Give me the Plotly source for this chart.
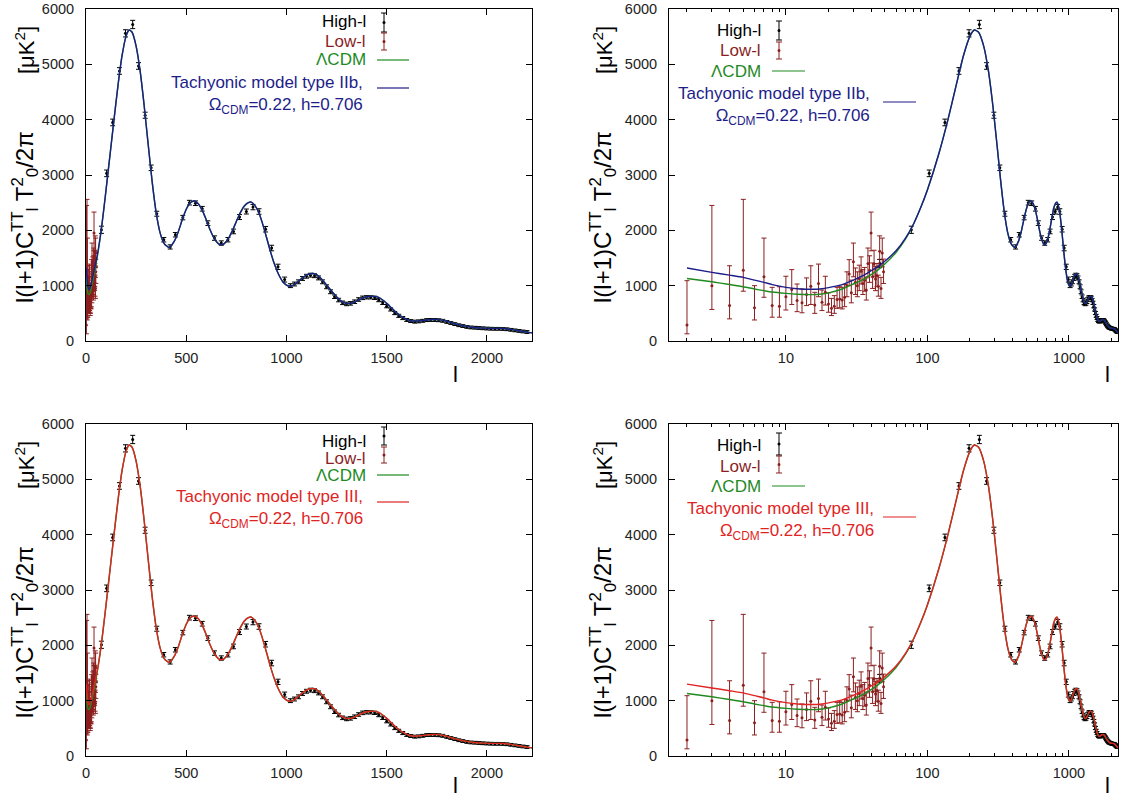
import plotly.graph_objects as go

W, H = 1123, 800
FONT = "Liberation Sans, Arial, Helvetica, sans-serif"

BLACK = "#000000"
BROWN = "#8b1f1f"
GREEN = "#1f8a1f"
NAVY = "#1d1d8a"
RED = "#e02424"

# ---------------- data ----------------
# Low-l TT band powers (l, value, upper error, lower error)
lowl_l = list(range(2, 50))
lowl_val = [290, 1000, 640, 1280, 600, 1160, 640, 630, 800, 930,
            730, 690, 840, 990, 650, 1040, 700, 880, 670, 590,
            630, 750, 760, 740, 790, 1000, 1210, 870, 1430, 1060,
            1000, 1130, 1260, 1040, 1100, 920, 1400, 1280, 1950, 1160,
            1390, 1120, 1180, 990, 1620, 950, 1590, 1250]
lowl_up = [800, 1450, 720, 1280, 400, 700, 330, 350, 370, 360,
           300, 250, 300, 370, 230, 350, 220, 290, 200, 180,
           190, 220, 230, 230, 230, 250, 260, 230, 340, 260,
           250, 240, 260, 250, 230, 220, 280, 260, 380, 250,
           250, 230, 220, 200, 280, 200, 270, 230]
lowl_dn = [160, 430, 240, 380, 220, 370, 210, 200, 240, 270,
           200, 180, 200, 330, 150, 240, 150, 230, 150, 130,
           130, 160, 160, 160, 170, 200, 210, 180, 270, 220,
           200, 220, 230, 200, 200, 180, 240, 220, 320, 210,
           230, 210, 200, 180, 260, 180, 250, 210]

# High-l binned TT power spectrum (l, value, symmetric error)
highl_l = [46, 77, 103, 133, 167, 197, 233, 262, 295, 325,
           353, 388, 420, 446, 483, 516, 546, 580, 608, 641,
           675, 708, 736, 766, 800, 833, 863, 896, 926, 958,
           991, 1020, 1040, 1060, 1080, 1100, 1120, 1140, 1160, 1180,
           1200, 1220, 1240, 1260, 1280, 1300, 1320, 1340, 1360, 1380,
           1400, 1420, 1440, 1460, 1480, 1500, 1520, 1540, 1560, 1580,
           1600, 1620, 1640, 1660, 1680, 1700, 1720, 1740, 1760, 1780,
           1800, 1820, 1840, 1860, 1880, 1900, 1920, 1940, 1960, 1980,
           2000, 2020, 2040, 2060, 2080, 2100, 2120, 2140, 2160, 2180, 2200]
highl_val = [1400, 2010, 3030, 3950, 4880, 5560, 5720, 4970, 4080, 3130,
             2300, 1830, 1700, 1920, 2230, 2500, 2490, 2390, 2130, 1860,
             1770, 1830, 1980, 2240, 2340, 2420, 2340, 2020, 1680, 1340,
             1110, 1000, 1030, 1070, 1130, 1170, 1190, 1180, 1140, 1070,
             980, 890, 800, 740, 690, 670, 680, 710, 750, 780,
             790, 790, 780, 740, 690, 630, 570, 505, 455, 415,
             380, 360, 350, 355, 365, 378, 380, 380, 375, 365,
             345, 325, 305, 285, 270, 255, 245, 240, 235, 230,
             225, 222, 220, 220, 218, 212, 202, 192, 182, 172, 162]
highl_err = [75, 65, 60, 60, 60, 65, 75, 60, 55, 50,
             45, 40, 38, 40, 40, 42, 42, 42, 42, 40,
             40, 40, 42, 45, 45, 48, 50, 50, 50, 48,
             45, 35, 35, 35, 35, 35, 35, 35, 35, 35,
             35, 35, 32, 32, 32, 32, 32, 32, 32, 32,
             30, 30, 30, 30, 30, 30, 28, 28, 28, 28,
             26, 26, 26, 26, 26, 26, 26, 26, 26, 26,
             25, 25, 25, 25, 25, 25, 25, 25, 25, 25,
             25, 25, 25, 25, 25, 25, 25, 25, 25, 25, 25]

# LambdaCDM best-fit spectrum
lcdm_l = [2, 3, 4, 5, 6, 7, 8, 10, 12, 15, 18, 20, 25, 30, 35, 40, 45, 50,
          60, 70, 80, 90, 100, 120, 140, 160, 180, 200, 215, 230, 250, 270,
          290, 310, 330, 350, 370, 390, 415, 440, 460, 480, 500, 520, 540,
          560, 580, 600, 620, 640, 660, 675, 690, 710, 730, 750, 770, 790,
          810, 825, 840, 860, 880, 900, 920, 940, 960, 980, 1000, 1020,
          1040, 1060, 1080, 1100, 1120, 1135, 1150, 1170, 1190, 1210, 1230,
          1250, 1270, 1290, 1307, 1330, 1360, 1390, 1420, 1440, 1460, 1480,
          1500, 1520, 1540, 1560, 1580, 1600, 1620, 1640, 1670, 1700, 1730,
          1755, 1780, 1810, 1840, 1870, 1900, 1935, 1970, 2000, 2040, 2083,
          2120, 2160, 2200, 2230]
lcdm_val = [1130, 1070, 1020, 980, 940, 910, 885, 860, 845, 838, 850, 870,
            940, 1030, 1110, 1200, 1290, 1390, 1600, 1840, 2120, 2420, 2730,
            3370, 4010, 4630, 5160, 5510, 5620, 5580, 5330, 4880, 4260, 3560,
            2880, 2320, 1950, 1760, 1690, 1800, 1970, 2190, 2380, 2500, 2530,
            2480, 2360, 2190, 2000, 1850, 1760, 1740, 1760, 1850, 1990, 2160,
            2320, 2440, 2500, 2510, 2460, 2340, 2130, 1880, 1620, 1390, 1210,
            1080, 1010, 990, 1020, 1080, 1140, 1190, 1215, 1220, 1200, 1140,
            1060, 970, 880, 800, 730, 690, 675, 690, 740, 790, 810, 807, 790,
            740, 680, 610, 540, 480, 430, 390, 365, 357, 365, 380, 388, 387,
            375, 345, 310, 285, 265, 243, 235, 230, 228, 225, 210, 185, 160,
            145]

# Tachyonic models: low-l part (above l=80 they coincide with LambdaCDM)
tach_low_l = [2, 3, 4, 5, 6, 7, 8, 10, 12, 15, 18, 20, 25, 30, 35, 40, 45,
              50, 60, 70]
tachIIb_low_val = [1320, 1240, 1190, 1150, 1100, 1060, 1020, 970, 945, 935,
                   945, 965, 1020, 1100, 1180, 1270, 1350, 1440, 1630, 1860]
tachIII_low_val = [1300, 1230, 1180, 1140, 1090, 1050, 1010, 965, 940, 930,
                   940, 960, 1015, 1095, 1175, 1265, 1345, 1435, 1625, 1855]

n_low = len(tach_low_l)
tachIIb_l = tach_low_l + lcdm_l[n_low:]
tachIIb_val = tachIIb_low_val + lcdm_val[n_low:]
tachIII_l = tach_low_l + lcdm_l[n_low:]
tachIII_val = tachIII_low_val + lcdm_val[n_low:]

# ---------------- figure ----------------
fig = go.Figure()

panels = [
    # (xaxis id, yaxis id, model colour, model l, model values)
    ("x", "y", NAVY, tachIIb_l, tachIIb_val),
    ("x2", "y2", NAVY, tachIIb_l, tachIIb_val),
    ("x3", "y3", RED, tachIII_l, tachIII_val),
    ("x4", "y4", RED, tachIII_l, tachIII_val),
]

for xa, ya, mcol, ml, mv in panels:
    fig.add_trace(go.Scatter(
        x=highl_l, y=highl_val, xaxis=xa, yaxis=ya, mode="markers",
        marker=dict(color=BLACK, size=3),
        error_y=dict(type="data", array=highl_err, color=BLACK,
                     thickness=1, width=2.5),
        showlegend=False, hoverinfo="skip"))
    fig.add_trace(go.Scatter(
        x=lowl_l, y=lowl_val, xaxis=xa, yaxis=ya, mode="markers",
        marker=dict(color=BROWN, size=3),
        error_y=dict(type="data", symmetric=False, array=lowl_up,
                     arrayminus=lowl_dn, color=BROWN, thickness=1, width=2.5),
        showlegend=False, hoverinfo="skip"))
    fig.add_trace(go.Scatter(
        x=lcdm_l, y=lcdm_val, xaxis=xa, yaxis=ya, mode="lines",
        line=dict(color=GREEN, width=1.4, shape="spline", smoothing=0.6),
        showlegend=False, hoverinfo="skip"))
    fig.add_trace(go.Scatter(
        x=ml, y=mv, xaxis=xa, yaxis=ya, mode="lines",
        line=dict(color=mcol, width=1.4, shape="spline", smoothing=0.6),
        showlegend=False, hoverinfo="skip"))


def px(x):
    return x / W


def py(y):
    return 1 - y / H


# axis frames (pixel boxes)
left_dom = [px(86), px(532)]
right_dom = [px(669), px(1118)]
top_dom = [py(341), py(9)]
bot_dom = [py(756), py(424)]

tickfont = dict(family=FONT, size=14.5, color="#222222")
common = dict(showline=True, linecolor=BLACK, linewidth=1, mirror="ticks",
              ticks="inside", ticklen=6, tickcolor=BLACK, showgrid=False,
              zeroline=False, tickfont=tickfont, automargin=False)

lin_x = dict(common, type="linear", range=[0, 2225],
             tickvals=[0, 500, 1000, 1500, 2000], ticklabelstandoff=4)
log_x = dict(common, type="log", range=[0.174, 3.347],
             tickvals=[10, 100, 1000], ticktext=["10", "100", "1000"],
             ticklabelstandoff=4,
             minor=dict(ticks="inside", ticklen=3, tickcolor=BLACK,
                        tickvals=[2, 3, 4, 5, 6, 7, 8, 9,
                                  20, 30, 40, 50, 60, 70, 80, 90,
                                  200, 300, 400, 500, 600, 700, 800, 900,
                                  2000]))
y_ax = dict(common, range=[0, 6000], ticklabelstandoff=8,
            tickvals=[0, 1000, 2000, 3000, 4000, 5000, 6000])

fig.update_layout(
    xaxis=dict(lin_x, domain=left_dom, anchor="y"),
    yaxis=dict(y_ax, domain=top_dom, anchor="x"),
    xaxis2=dict(log_x, domain=right_dom, anchor="y2"),
    yaxis2=dict(y_ax, domain=top_dom, anchor="x2"),
    xaxis3=dict(lin_x, domain=left_dom, anchor="y3"),
    yaxis3=dict(y_ax, domain=bot_dom, anchor="x3"),
    xaxis4=dict(log_x, domain=right_dom, anchor="y4"),
    yaxis4=dict(y_ax, domain=bot_dom, anchor="x4"),
)

annotations = []
shapes = []


def text(x, y, s, color, size=17, xanchor="right", angle=0, align="right"):
    annotations.append(dict(
        x=px(x), y=py(y), xref="paper", yref="paper", text=s,
        showarrow=False, xanchor=xanchor, yanchor="middle", align=align,
        textangle=angle, font=dict(family=FONT, size=size, color=color)))


def seg(x0, y0, x1, y1, color, width=1.2):
    shapes.append(dict(type="line", xref="paper", yref="paper",
                       x0=px(x0), y0=py(y0), x1=px(x1), y1=py(y1),
                       line=dict(color=color, width=width)))


def errsample(x, y0, y1, color):
    seg(x, y0, x, y1, color, 1)
    seg(x - 3, y0, x + 3, y0, color, 1)
    seg(x - 3, y1, x + 3, y1, color, 1)
    ym = (y0 + y1) / 2
    shapes.append(dict(type="circle", xref="paper", yref="paper",
                       x0=px(x - 1.5), x1=px(x + 1.5),
                       y0=py(ym - 1.5), y1=py(ym + 1.5),
                       fillcolor=color, line=dict(color=color, width=0)))


ytitle = "l(l+1)C<sup>TT</sup><sub>l</sub> T<sup>2</sup><sub>0</sub>/2π"
unit = "[μK<sup>2</sup>]"
omega = "Ω<sub>CDM</sub>=0.22, h=0.706"

keys = [
    # top-left
    dict(ex=384, rx=368, ys=[22, 42, 60, 95, 88],
         eb=[(13, 32), (33, 50)], lx=(377, 409), tlx=(377, 409), trx=365,
         name="Tachyonic model type IIb,", col=NAVY),
    # top-right
    dict(ex=779, rx=763, ys=[31, 51, 71, 106, 102],
         eb=[(21, 40), (42, 59)], lx=(772, 805), tlx=(883, 916), trx=872,
         name="Tachyonic model type IIb,", col=NAVY),
    # bottom-left
    dict(ex=384, rx=368, ys=[441, 458, 475, 509, 502],
         eb=[(427, 445), (447, 463)], lx=(377, 409), tlx=(377, 409), trx=365,
         name="Tachyonic model type III,", col=RED),
    # bottom-right
    dict(ex=779, rx=763, ys=[445, 466, 486, 521, 517],
         eb=[(433, 455), (456, 473)], lx=(772, 805), tlx=(883, 916), trx=876,
         name="Tachyonic model type III,", col=RED),
]

for k in keys:
    y_h, y_lo, y_l, y_t, y_ts = k["ys"]
    text(k["rx"], y_h, "High-l", BLACK)
    errsample(k["ex"], k["eb"][0][0], k["eb"][0][1], BLACK)
    text(k["rx"], y_lo, "Low-l", BROWN)
    errsample(k["ex"], k["eb"][1][0], k["eb"][1][1], BROWN)
    text(k["rx"], y_l, "ΛCDM", GREEN)
    seg(k["lx"][0], y_l, k["lx"][1], y_l, GREEN)
    text(k["trx"], y_t, k["name"] + "<br>" + omega, k["col"])
    seg(k["tlx"][0], y_ts, k["tlx"][1], y_ts, k["col"])

# axis titles
for xt, yt0 in [(25, 0), (603, 0), (25, 415), (603, 415)]:
    text(xt, 217 + yt0, ytitle, BLACK, size=24, xanchor="center", angle=-90,
         align="center")
    text(xt, 50 + yt0, unit, BLACK, size=22, xanchor="center", angle=-90,
         align="center")
for xl, yl in [(455, 374), (1107, 374), (455, 785), (1107, 785)]:
    text(xl, yl, "l", BLACK, size=22, xanchor="center", align="center")

fig.update_layout(
    width=W, height=H, margin=dict(l=0, r=0, t=0, b=0),
    paper_bgcolor="white", plot_bgcolor="white",
    annotations=annotations, shapes=shapes, showlegend=False,
    font=dict(family=FONT),
)

fig.write_html("out.html")
